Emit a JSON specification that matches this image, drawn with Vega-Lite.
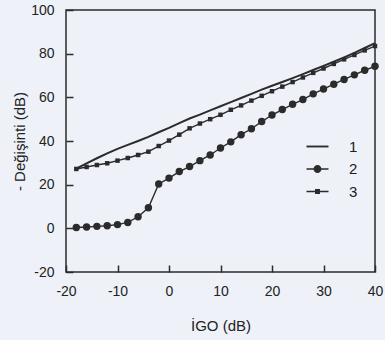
{
  "$schema": "https://vega.github.io/schema/vega-lite/v6.json",
  "width": 309,
  "height": 262,
  "autosize": {"type": "none"},
  "padding": {"left": 66, "top": 10, "right": 10, "bottom": 68},
  "background": "#eef1f8",
  "config": {
    "view": {"stroke": "#2b2b2b", "strokeWidth": 1.5},
    "font": "Liberation Sans"
  },
  "data": {
    "values": [
      {"s": "1", "x": -18, "y": 27.3}, {"s": "1", "x": -16, "y": 29.8}, {"s": "1", "x": -14, "y": 32.1}, {"s": "1", "x": -12, "y": 34.3}, {"s": "1", "x": -10, "y": 36.4}, {"s": "1", "x": -8, "y": 38.2}, {"s": "1", "x": -6, "y": 40.0}, {"s": "1", "x": -4, "y": 41.9}, {"s": "1", "x": -2, "y": 44.0}, {"s": "1", "x": 0, "y": 46.0}, {"s": "1", "x": 2, "y": 48.2}, {"s": "1", "x": 4, "y": 50.3}, {"s": "1", "x": 6, "y": 52.1}, {"s": "1", "x": 8, "y": 54.0}, {"s": "1", "x": 10, "y": 55.9}, {"s": "1", "x": 12, "y": 57.8}, {"s": "1", "x": 14, "y": 59.7}, {"s": "1", "x": 16, "y": 61.6}, {"s": "1", "x": 18, "y": 63.5}, {"s": "1", "x": 20, "y": 65.3}, {"s": "1", "x": 22, "y": 67.0}, {"s": "1", "x": 24, "y": 68.8}, {"s": "1", "x": 26, "y": 70.6}, {"s": "1", "x": 28, "y": 72.5}, {"s": "1", "x": 30, "y": 74.4}, {"s": "1", "x": 32, "y": 76.3}, {"s": "1", "x": 34, "y": 78.3}, {"s": "1", "x": 36, "y": 80.4}, {"s": "1", "x": 38, "y": 82.6}, {"s": "1", "x": 40, "y": 84.8},
      {"s": "2", "x": -18, "y": 0.4}, {"s": "2", "x": -16, "y": 0.6}, {"s": "2", "x": -14, "y": 0.9}, {"s": "2", "x": -12, "y": 1.2}, {"s": "2", "x": -10, "y": 1.7}, {"s": "2", "x": -8, "y": 2.7}, {"s": "2", "x": -6, "y": 5.3}, {"s": "2", "x": -4, "y": 9.4}, {"s": "2", "x": -2, "y": 20.3}, {"s": "2", "x": 0, "y": 23.0}, {"s": "2", "x": 2, "y": 26.0}, {"s": "2", "x": 4, "y": 28.3}, {"s": "2", "x": 6, "y": 31.0}, {"s": "2", "x": 8, "y": 33.6}, {"s": "2", "x": 10, "y": 36.8}, {"s": "2", "x": 12, "y": 39.6}, {"s": "2", "x": 14, "y": 42.9}, {"s": "2", "x": 16, "y": 45.6}, {"s": "2", "x": 18, "y": 48.9}, {"s": "2", "x": 20, "y": 51.9}, {"s": "2", "x": 22, "y": 54.4}, {"s": "2", "x": 24, "y": 56.8}, {"s": "2", "x": 26, "y": 59.0}, {"s": "2", "x": 28, "y": 61.6}, {"s": "2", "x": 30, "y": 63.8}, {"s": "2", "x": 32, "y": 66.0}, {"s": "2", "x": 34, "y": 68.2}, {"s": "2", "x": 36, "y": 70.3}, {"s": "2", "x": 38, "y": 72.4}, {"s": "2", "x": 40, "y": 74.2},
      {"s": "3", "x": -18, "y": 27.2}, {"s": "3", "x": -16, "y": 28.1}, {"s": "3", "x": -14, "y": 29.0}, {"s": "3", "x": -12, "y": 29.8}, {"s": "3", "x": -10, "y": 31.0}, {"s": "3", "x": -8, "y": 32.2}, {"s": "3", "x": -6, "y": 33.6}, {"s": "3", "x": -4, "y": 35.1}, {"s": "3", "x": -2, "y": 37.7}, {"s": "3", "x": 0, "y": 40.2}, {"s": "3", "x": 2, "y": 42.9}, {"s": "3", "x": 4, "y": 45.8}, {"s": "3", "x": 6, "y": 48.0}, {"s": "3", "x": 8, "y": 50.0}, {"s": "3", "x": 10, "y": 52.0}, {"s": "3", "x": 12, "y": 54.3}, {"s": "3", "x": 14, "y": 56.3}, {"s": "3", "x": 16, "y": 58.5}, {"s": "3", "x": 18, "y": 60.7}, {"s": "3", "x": 20, "y": 62.8}, {"s": "3", "x": 22, "y": 64.9}, {"s": "3", "x": 24, "y": 67.0}, {"s": "3", "x": 26, "y": 69.1}, {"s": "3", "x": 28, "y": 71.2}, {"s": "3", "x": 30, "y": 73.2}, {"s": "3", "x": 32, "y": 75.3}, {"s": "3", "x": 34, "y": 77.4}, {"s": "3", "x": 36, "y": 79.4}, {"s": "3", "x": 38, "y": 81.5}, {"s": "3", "x": 40, "y": 83.5}
    ]
  },
  "encoding": {
    "x": {
      "field": "x", "type": "quantitative",
      "scale": {"domain": [-20, 40], "nice": false, "zero": false},
      "axis": {
        "title": "İGO (dB)", "values": [-20, -10, 0, 10, 20, 30, 40],
        "labelExpr": "datum.value < 0 ? '-' + abs(datum.value) : '' + datum.value",
        "grid": false, "domain": false, "tickSize": -7, "tickWidth": 1.5, "tickColor": "#2b2b2b",
        "labelPadding": 19, "labelFontSize": 14, "labelColor": "#222222", "labelFlush": false,
        "titleFontSize": 15, "titleFontWeight": "normal", "titleColor": "#222222", "titlePadding": 20
      }
    },
    "y": {
      "field": "y", "type": "quantitative",
      "scale": {"domain": [-20, 100], "nice": false, "zero": false},
      "axis": {
        "title": "- Değişinti (dB)", "values": [-20, 0, 20, 40, 60, 80, 100],
        "labelExpr": "datum.value < 0 ? '-' + abs(datum.value) : '' + datum.value",
        "grid": false, "domain": false, "tickSize": -7, "tickWidth": 1.5, "tickColor": "#2b2b2b",
        "labelPadding": 19, "labelFontSize": 14, "labelColor": "#222222", "labelFlush": false,
        "titleFontSize": 15, "titleFontWeight": "normal", "titleColor": "#222222", "titlePadding": 3
      }
    }
  },
  "layer": [
    {
      "transform": [{"filter": "datum.s == '1'"}],
      "mark": {"type": "line", "color": "#2b2b2b", "strokeWidth": 2}
    },
    {
      "transform": [{"filter": "datum.s != '1'"}],
      "mark": {"type": "line", "color": "#2b2b2b", "strokeWidth": 1.4},
      "encoding": {"detail": {"field": "s", "type": "nominal"}}
    },
    {
      "transform": [{"filter": "datum.s == '2'"}],
      "mark": {"type": "point", "shape": "circle", "filled": true, "color": "#2b2b2b", "opacity": 1, "size": 55}
    },
    {
      "transform": [{"filter": "datum.s == '3'"}],
      "mark": {"type": "point", "shape": "square", "filled": true, "color": "#2b2b2b", "opacity": 1, "size": 20}
    },
    {
      "transform": [{"filter": "datum.s == 'none'"}],
      "mark": {"type": "point", "filled": true, "color": "#2b2b2b", "opacity": 1, "size": 121},
      "encoding": {
        "shape": {
          "field": "s", "type": "nominal",
          "scale": {"domain": ["1", "2", "3"], "range": ["M-2,-0.17H2V0.17H-2Z", "M-2,-0.13H2V0.13H-2ZM-0.72,0A0.72,0.72 0 1,1 0.72,0A0.72,0.72 0 1,1 -0.72,0Z", "M-2,-0.13H2V0.13H-2ZM-0.45,-0.45H0.45V0.45H-0.45Z"]},
          "legend": {
            "orient": "none", "legendX": 244, "legendY": 129, "title": null,
            "labelFontSize": 15, "labelColor": "#222222", "labelOffset": 24, "rowPadding": 6.5,
            "symbolSize": 121, "symbolFillColor": "#2b2b2b", "symbolOpacity": 1
          }
        }
      }
    }
  ]
}
